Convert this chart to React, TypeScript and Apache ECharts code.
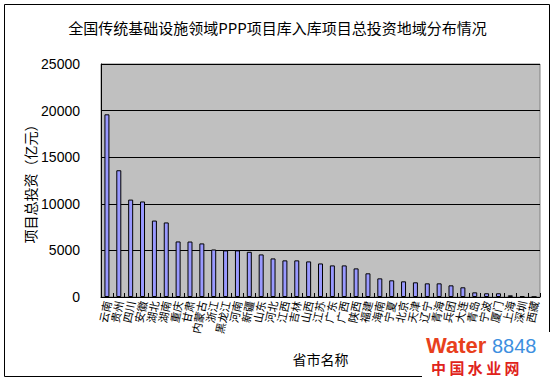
import React, { useEffect, useRef } from "react";
import * as echarts from "echarts";

const titleText = "全国传统基础设施领域PPP项目库入库项目总投资地域分布情况";
const yAxisName = "项目总投资（亿元）";
const xAxisName = "省市名称";

const provinces = [
  "云南", "贵州", "四川", "安徽", "湖北", "湖南", "重庆", "甘肃", "内蒙古", "浙江",
  "黑龙江", "河南", "新疆", "山东", "河北", "江西", "吉林", "山西", "江苏", "广东",
  "广西", "陕西", "福建", "海南", "宁夏", "北京", "天津", "辽宁", "青海", "兵团",
  "大连", "青岛", "宁波", "厦门", "上海", "深圳", "西藏",
];

const investment = [
  19600, 13600, 10450, 10250, 8200, 8000, 5960, 5950, 5750, 5100,
  5000, 5000, 4850, 4570, 4140, 3930, 3930, 3820, 3600, 3390,
  3390, 3070, 2540, 2000, 1790, 1680, 1575, 1465, 1465, 1250,
  1040, 500, 400, 400, 180, 80, 20,
];

const yMin = 0;
const yMax = 25000;
const yStep = 5000;

export default function App() {
  const ref = useRef<HTMLDivElement>(null);

  useEffect(() => {
    if (!ref.current) return;
    const chart = echarts.init(ref.current, null, { renderer: "svg" });
    chart.setOption({
      animation: false,
      backgroundColor: "#ffffff",
      title: {
        text: titleText,
        left: "center",
        top: 15,
        textStyle: {
          fontSize: 15,
          fontWeight: "normal",
          color: "#000",
          fontFamily: "Noto Sans CJK SC",
        },
      },
      grid: {
        left: 101,
        top: 64,
        right: 15,
        bottom: 87,
        show: true,
        backgroundColor: "#C0C0C0",
        borderColor: "#808080",
        borderWidth: 1,
        outerBoundsMode: "none",
      },
      xAxis: {
        type: "category",
        data: provinces,
        name: xAxisName,
        nameLocation: "middle",
        nameGap: 55,
        nameMoveOverlap: false,
        nameTextStyle: { fontSize: 14, color: "#000", fontFamily: "Noto Sans CJK SC" },
        axisLine: { show: true, lineStyle: { color: "#000", width: 1 } },
        axisTick: { show: true, inside: true, length: 4, lineStyle: { color: "#000" } },
        axisLabel: {
          interval: 0,
          rotate: 78,
          fontSize: 11,
          margin: 4,
          color: "#000",
          fontFamily: "Noto Sans CJK SC",
        },
      },
      yAxis: {
        type: "value",
        min: yMin,
        max: yMax,
        interval: yStep,
        name: yAxisName,
        nameLocation: "middle",
        nameGap: 64,
        nameMoveOverlap: false,
        nameTextStyle: { fontSize: 14, color: "#000", fontFamily: "Noto Sans CJK SC" },
        axisLine: { show: true, lineStyle: { color: "#000", width: 1 } },
        axisTick: { show: true, inside: true, length: 4, lineStyle: { color: "#000" } },
        axisLabel: {
          fontSize: 14,
          margin: 21,
          color: "#000",
          fontFamily: "Liberation Sans",
          formatter: (v: number) => String(v),
        },
        splitLine: { show: true, lineStyle: { color: "#000", width: 1 } },
      },
      series: [
        {
          type: "bar",
          data: investment,
          barWidth: 5,
          itemStyle: { color: "#9999FF", borderColor: "#000", borderWidth: 1 },
        },
      ],
      graphic: [
        {
          type: "rect",
          silent: true,
          z: -1,
          shape: { x: 4.5, y: 4.5, width: 545, height: 372 },
          style: { fill: "none", stroke: "#000", lineWidth: 1 },
        },
        {
          type: "rect",
          silent: true,
          z: 10,
          shape: { x: 422, y: 332, width: 133, height: 52 },
          style: { fill: "#ffffff" },
        },
        {
          type: "text",
          z: 11,
          x: 426,
          y: 334,
          style: {
            text: "Water",
            fontSize: 22,
            fontWeight: "bold",
            fontFamily: "Liberation Sans",
            fill: "#E8401C",
          },
        },
        {
          type: "text",
          z: 11,
          x: 492,
          y: 336,
          style: {
            text: "8848",
            fontSize: 20,
            fontFamily: "Liberation Sans",
            fill: "#3D8FE0",
          },
        },
        {
          type: "text",
          z: 11,
          x: 431,
          y: 360,
          style: {
            text: "中 国 水 业 网",
            fontSize: 15,
            fontWeight: "bold",
            fontFamily: "Noto Sans CJK SC",
            fill: "#E0231B",
          },
        },
      ],
    });
    return () => chart.dispose();
  }, []);

  return (
    <div
      ref={ref}
      style={{ position: "fixed", left: 0, top: 0, width: 555, height: 384 }}
    />
  );
}
